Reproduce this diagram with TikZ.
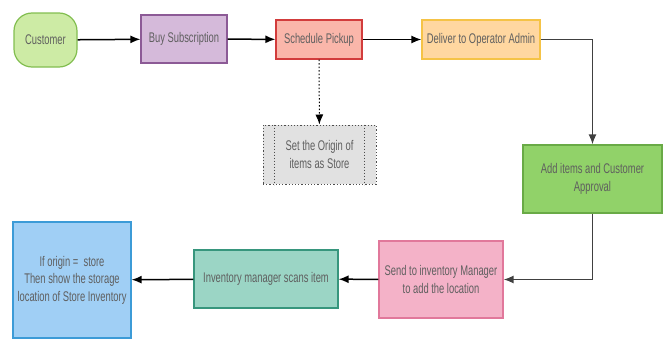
\documentclass[tikz,border=0pt]{standalone}
\usepackage{fontspec}
\setmainfont{Liberation Sans}[FakeStretch=0.67]
\usepackage{xcolor}
\usepackage{tikz}
\usetikzlibrary{arrows.meta, positioning}
\definecolor{custfill}{RGB}{205, 235, 165}
\definecolor{custline}{RGB}{130, 190, 80}
\definecolor{buyfill}{RGB}{213, 186, 218}
\definecolor{buyline}{RGB}{140, 90, 150}
\definecolor{pickfill}{RGB}{250, 182, 170}
\definecolor{pickline}{RGB}{210, 60, 60}
\definecolor{delivfill}{RGB}{255, 215, 160}
\definecolor{delivline}{RGB}{245, 195, 70}
\definecolor{addfill}{RGB}{145, 210, 105}
\definecolor{addline}{RGB}{105, 170, 70}
\definecolor{sendfill}{RGB}{244, 178, 200}
\definecolor{sendline}{RGB}{225, 120, 155}
\definecolor{scanfill}{RGB}{155, 213, 197}
\definecolor{scanline}{RGB}{55, 150, 125}
\definecolor{showfill}{RGB}{160, 207, 245}
\definecolor{showline}{RGB}{60, 155, 215}
\definecolor{origfill}{RGB}{225, 225, 225}
\definecolor{txtgray}{RGB}{95, 95, 95}

\begin{document}
\begin{tikzpicture}[x=1pt, y=-1pt,
    box/.style={rectangle, line width=1.2pt, align=center, text=txtgray, font=\fontsize{14}{17.5}\selectfont},
    flow/.style={line width=1.5pt, -{Latex[length=10pt,width=8pt]}}
]
\useasboundingbox (0,0) rectangle (665,340);

% Top row
\node[box, rounded corners=18pt, fill=custfill, draw=custline, minimum width=63pt, minimum height=54pt] (cust) at (45.5,40) {Customer};
\node[box, fill=buyfill, draw=buyline, minimum width=86pt, minimum height=48pt] (buy) at (184,39) {Buy Subscription};
\node[box, fill=pickfill, draw=pickline, minimum width=86pt, minimum height=39pt] (pick) at (319,39.5) {Schedule Pickup};
\node[box, fill=delivfill, draw=delivline, minimum width=118pt, minimum height=39pt] (deliv) at (481,39.5) {Deliver to Operator Admin};

% Side note below pickup
\node[box, dotted, fill=origfill, draw=black!70, line width=1pt, minimum width=113pt, minimum height=59pt] (orig) at (319.5,154.5) {Set the Origin of\\items as Store};
\draw[dotted, black!70, line width=1pt] ([xshift=12pt]orig.north west) -- ([xshift=12pt]orig.south west);
\draw[dotted, black!70, line width=1pt] ([xshift=-12pt]orig.north east) -- ([xshift=-12pt]orig.south east);

% Right column
\node[box, fill=addfill, draw=addline, minimum width=139pt, minimum height=68pt] (add) at (592.5,179) {Add items and Customer\\Approval};

% Bottom row
\node[box, fill=sendfill, draw=sendline, minimum width=124pt, minimum height=77pt] (send) at (441,279.5) {Send to inventory Manager\\to add the location};
\node[box, fill=scanfill, draw=scanline, minimum width=144pt, minimum height=58pt] (scan) at (266,279) {Inventory manager scans item};
\node[box, fill=showfill, draw=showline, minimum width=118pt, minimum height=116pt] (show) at (72,280) {If origin =\ \ store\\Then show the storage\\location of Store Inventory};

% Connectors
\draw[flow] (cust) -- (buy);
\draw[flow] (buy) -- (pick);
\draw[flow] (pick) -- (deliv);
\draw[flow, dotted, line width=1pt] (pick) -- (orig);
\draw[flow, black!75] (deliv.east) -| (add.north);
\draw[flow, black!75] (add.south) |- (send.east);
\draw[flow] (send) -- (scan);
\draw[flow] (scan) -- (show);

\end{tikzpicture}
\end{document}
